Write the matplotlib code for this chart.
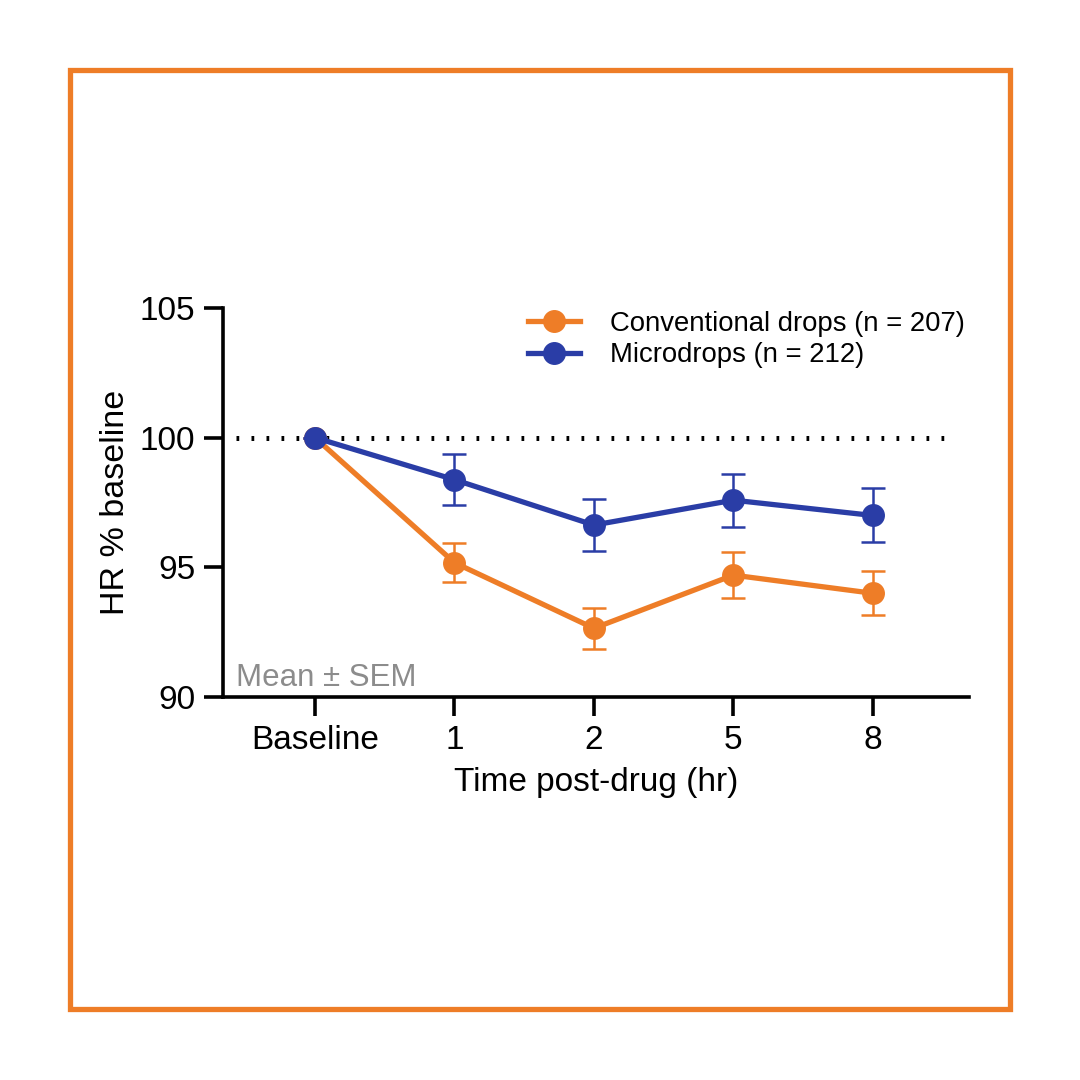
import matplotlib
matplotlib.use("Agg")
import matplotlib.pyplot as plt
from matplotlib.patches import Rectangle
from matplotlib.lines import Line2D

plt.rcParams['font.family'] = ['Liberation Sans', 'DejaVu Sans']

categories = ["Baseline", "1", "2", "5", "8"]
conv_mean = [100.0, 95.18, 92.65, 94.7, 94.0]
conv_sem = [0.0, 0.74, 0.8, 0.9, 0.85]
micro_mean = [100.0, 98.38, 96.63, 97.59, 97.0]
micro_sem = [0.0, 0.98, 1.0, 1.02, 1.04]
conv_label = "Conventional drops (n = 207)"
micro_label = "Microdrops (n = 212)"
yticks = [90, 95, 100, 105]

orange = "#EE7D27"
blue = "#2A3DA6"

fig = plt.figure(figsize=(10.8, 10.8), dpi=100)
fig.patch.set_facecolor("white")
fig.patches.append(Rectangle((69.5/1080, 1 - 1008.5/1080), 940/1080, 939/1080,
                             transform=fig.transFigure, fill=False,
                             edgecolor=orange, linewidth=3.8))

ax = fig.add_axes([223/1080, 1 - 697/1080, 746/1080, 389/1080])
x = list(range(len(categories)))

ax.hlines(100, -0.57, 4.59, colors="black", linestyles=(0, (0.55, 2.45)),
          linewidth=3.6, zorder=1)
ax.errorbar(x, conv_mean, yerr=conv_sem, color=orange, marker="o",
            markersize=15.5, linewidth=3.8, elinewidth=1.8, capsize=8.5,
            capthick=1.8, zorder=3)
ax.errorbar(x, micro_mean, yerr=micro_sem, color=blue, marker="o",
            markersize=15.5, linewidth=3.8, elinewidth=1.8, capsize=8.5,
            capthick=1.8, zorder=4)

ax.set_xlim(-0.66, 4.69)
ax.set_ylim(90, 105)
ax.set_xticks(x)
ax.set_xticklabels(categories)
ax.set_yticks(yticks)
for s in ["top", "right"]:
    ax.spines[s].set_visible(False)
for s in ["left", "bottom"]:
    ax.spines[s].set_linewidth(2.6)
ax.spines["left"].set_bounds(90, 105)
ax.tick_params(axis="both", length=14, width=2.6, labelsize=24, pad=6)
ax.set_xlabel("Time post-drug (hr)", fontsize=24, labelpad=8)
ax.set_ylabel("HR % baseline", fontsize=24.5, labelpad=6)

ax.text(0.0174, 0.028, "Mean ± SEM", transform=ax.transAxes, fontsize=22.5,
        color="#8C8C8C", va="baseline", ha="left")

handles = [Line2D([], [], color=orange, marker="o", markersize=15.5, linewidth=3.8),
           Line2D([], [], color=blue, marker="o", markersize=15.5, linewidth=3.8)]
leg = fig.legend(handles, [conv_label, micro_label], loc="upper left",
                 bbox_to_anchor=(528/1080, 1 - 311/1080),
                 frameon=False, fontsize=19.8, borderpad=0, borderaxespad=0,
                 handlelength=1.9, handletextpad=1.1, labelspacing=0.2)

fig.savefig("out.png", dpi=100, facecolor="white")
